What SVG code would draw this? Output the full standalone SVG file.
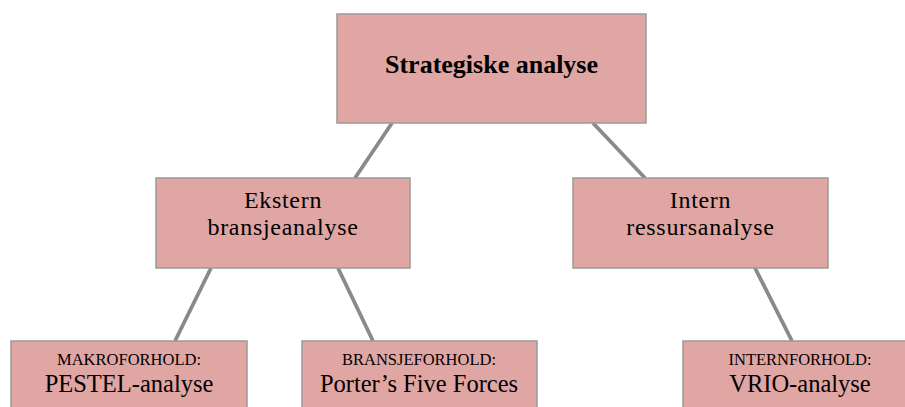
<svg xmlns="http://www.w3.org/2000/svg" width="905" height="407" viewBox="0 0 905 407">
<style>
.box{fill:#e0a6a3;stroke:#9a9a9a;stroke-width:1.5}
.t{font-family:"Liberation Serif","Times New Roman",serif;fill:#000;text-anchor:middle}
.b{font-weight:bold;font-size:26px}
.m{font-size:24px;letter-spacing:0.7px}
.s{font-size:16.5px}
.l{font-size:24.5px}
.c{stroke:#8a8a8a;stroke-width:3.8;fill:none;stroke-linecap:butt}
</style>
<rect width="905" height="407" fill="#ffffff"/>
<g id="connectors">
<line class="c" x1="392" y1="123" x2="355" y2="178"/>
<line class="c" x1="593" y1="123" x2="645" y2="178"/>
<line class="c" x1="211" y1="268" x2="175" y2="341"/>
<line class="c" x1="338" y1="268" x2="373" y2="341"/>
<line class="c" x1="755" y1="268" x2="792" y2="341"/>
</g>
<g id="strategiske">
<rect class="box" x="337" y="14" width="309" height="109"/>
<text class="t b" x="491.5" y="73">Strategiske analyse</text>
</g>
<g id="ekstern">
<rect class="box" x="156" y="178" width="254" height="90"/>
<text class="t m" x="283" y="208">Ekstern</text>
<text class="t m" x="283" y="235">bransjeanalyse</text>
</g>
<g id="intern">
<rect class="box" x="573" y="178" width="255" height="90"/>
<text class="t m" x="700.5" y="208">Intern</text>
<text class="t m" x="700.5" y="235">ressursanalyse</text>
</g>
<g id="makro">
<rect class="box" x="11" y="341" width="236" height="80"/>
<text class="t s" x="129" y="365">MAKROFORHOLD:</text>
<text class="t l" x="129" y="392">PESTEL-analyse</text>
</g>
<g id="bransje">
<rect class="box" x="302" y="341" width="235" height="80"/>
<text class="t s" x="419" y="365">BRANSJEFORHOLD:</text>
<text class="t l" x="419" y="392">Porter’s Five Forces</text>
</g>
<g id="internforhold">
<rect class="box" x="683" y="341" width="235" height="80"/>
<text class="t s" x="800" y="365">INTERNFORHOLD:</text>
<text class="t l" x="800" y="392">VRIO-analyse</text>
</g>
</svg>
